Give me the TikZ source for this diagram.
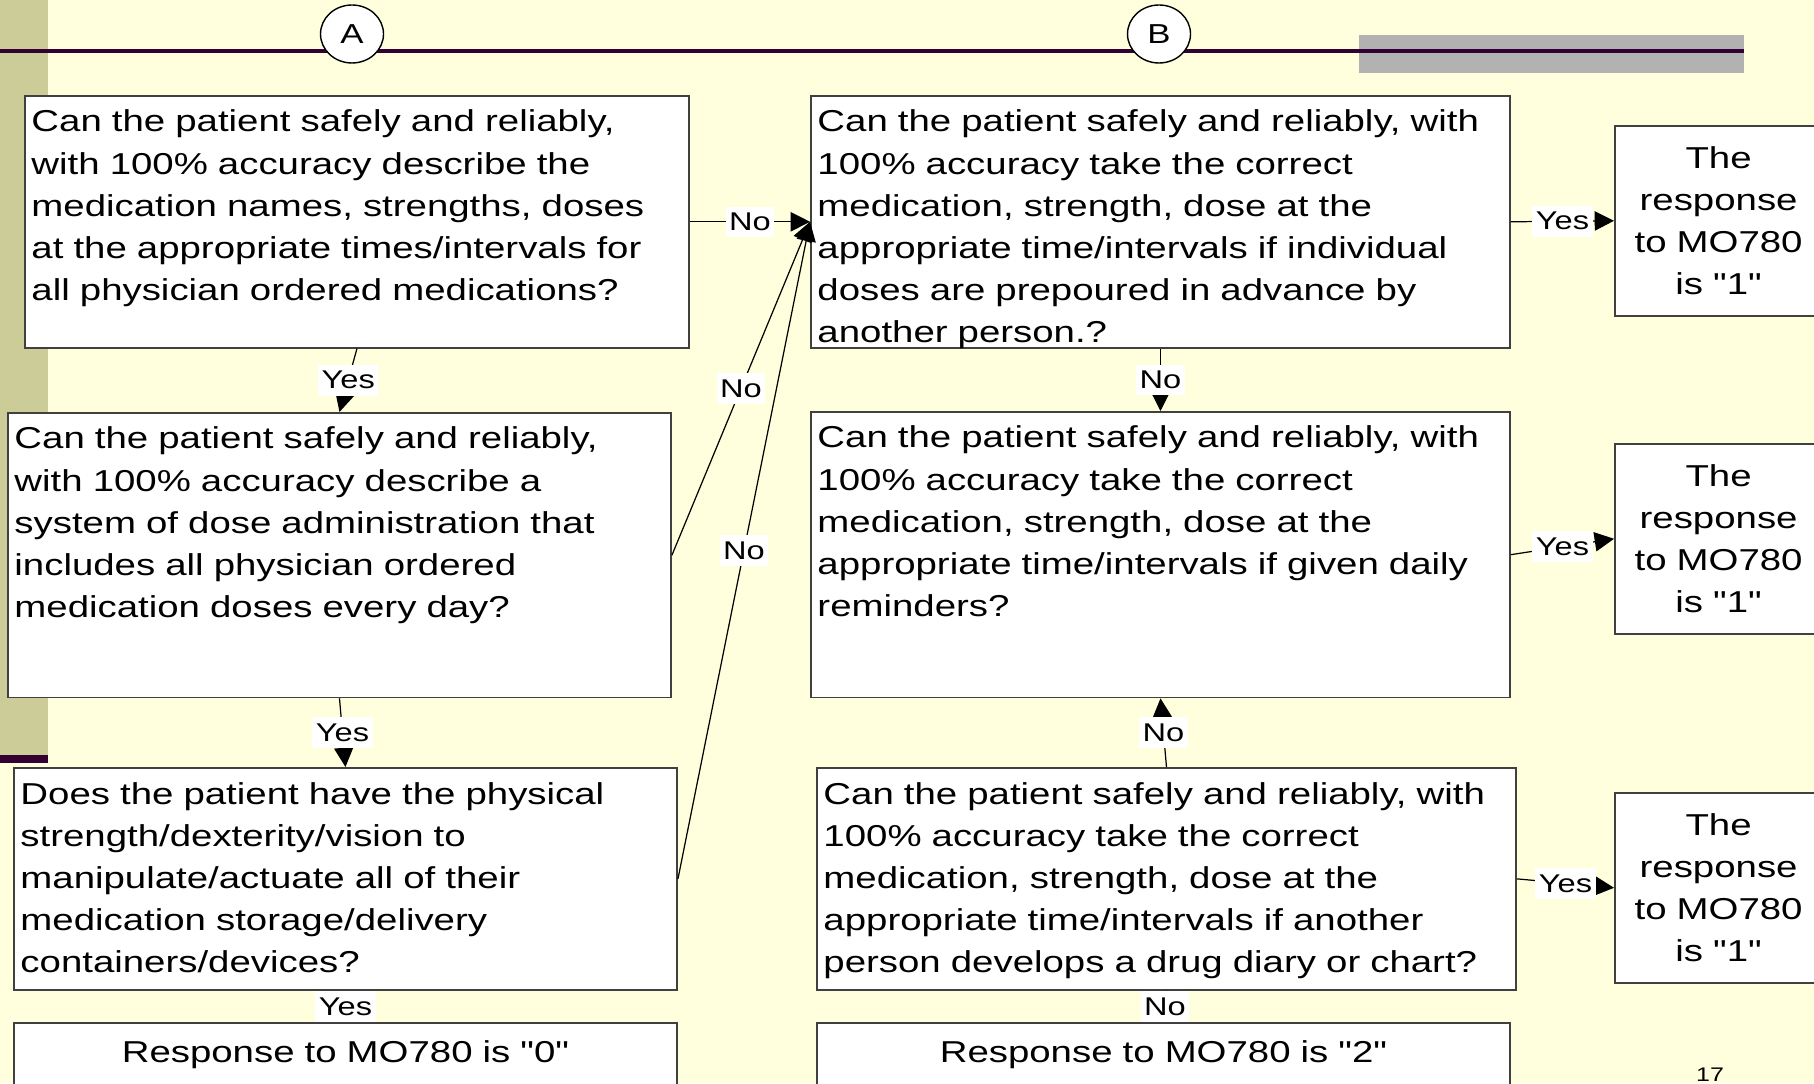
\documentclass[tikz,border=0pt]{standalone}
\usepackage{fontspec}
\setmainfont{Liberation Sans}[FakeStretch=1.27, Ligatures=TeXOff]
\usetikzlibrary{arrows.meta, shapes.geometric, positioning}
\tikzset{>={Triangle[length=5.5pt,width=5.5pt]}}

\definecolor{slidebg}{RGB}{255,255,221}
\definecolor{sidebar}{RGB}{204,204,153}
\definecolor{rulepurple}{RGB}{51,0,51}
\definecolor{bargray}{RGB}{178,178,178}
\definecolor{boxline}{RGB}{64,64,64}

\newcommand\qfont{\fontsize{8.6}{12}\selectfont}
\newcommand\lblfont{\fontsize{7.3}{8}\selectfont}
\newcommand\tagfont{\fontsize{7.8}{8}\selectfont}
\newcommand\pagefont{\fontsize{5.6}{6}\selectfont}

\tikzset{
  qbox/.style={draw=boxline, line width=0.45pt, fill=white, anchor=north west,
    align=left, inner xsep=1.9pt, inner ysep=2pt, text height=8.3pt, font=\qfont},
  ansbox/.style={draw=boxline, line width=0.45pt, fill=white, anchor=north west,
    align=center, text width=1.90cm, minimum height=1.90cm, inner xsep=2.5pt, font=\qfont},
  lbl/.style={fill=white, font=\lblfont, inner xsep=1pt, inner ysep=1.8pt},
  conn/.style={draw, ->, line width=0.35pt},
  tag/.style={ellipse, draw, fill=white, line width=0.4pt, minimum width=0.63cm,
    minimum height=0.58cm, inner sep=0pt, font=\tagfont}
}

\begin{document}
\begin{tikzpicture}
    \useasboundingbox (0,0) rectangle (18.14,-10.83);
    \clip (0,0) rectangle (18.14,-10.83);

    % slide background
    \fill[slidebg] (0,0) rectangle (18.14,-10.83);
    \fill[sidebar] (0,0) rectangle (0.48,-7.55);
    \fill[rulepurple] (0,-7.55) rectangle (0.48,-7.63);
    \fill[bargray] (13.59,-0.35) rectangle (17.44,-0.73);
    \draw[rulepurple, line width=1.15pt] (0,-0.51)--(17.44,-0.51);
    \node[tag] (tagA) at (3.52,-0.34) {A};
    \node[tag] (tagB) at (11.59,-0.34) {B};

    % column A
    \node[qbox, text width=6.51cm, text depth=59.4pt] (a1) at (0.24,-0.95)
      {Can the patient safely and reliably,\\ with 100\% accuracy describe the\\
       medication names, strengths, doses\\ at the appropriate times/intervals for\\
       all physician ordered medications?};
    \node[qbox, text width=6.50cm, text depth=68.7pt] (a2) at (0.07,-4.12)
      {Can the patient safely and reliably,\\ with 100\% accuracy describe a\\
       system of dose administration that\\ includes all physician ordered\\
       medication doses every day?};
    \node[qbox, text width=6.50cm, text depth=50.9pt] (a3) at (0.13,-7.67)
      {Does the patient have the physical\\ strength/dexterity/vision to\\
       manipulate/actuate all of their\\ medication storage/delivery\\
       containers/devices?};
    \node[qbox, align=center, text width=6.50cm, text height=9.3pt, text depth=30pt] (a4) at (0.13,-10.22)
      {Response to MO780 is "0"};

    % column B
    \node[qbox, text width=6.86cm, text depth=59.4pt] (b1) at (8.10,-0.95)
      {Can the patient safely and reliably, with\\ 100\% accuracy take the correct\\
       medication, strength, dose at the\\ appropriate time/intervals if individual\\
       doses are prepoured in advance by\\ another person.?};
    \node[qbox, text width=6.86cm, text depth=69.0pt] (b2) at (8.10,-4.11)
      {Can the patient safely and reliably, with\\ 100\% accuracy take the correct\\
       medication, strength, dose at the\\ appropriate time/intervals if given daily\\
       reminders?};
    \node[qbox, text width=6.86cm, text depth=50.9pt] (b3) at (8.16,-7.67)
      {Can the patient safely and reliably, with\\ 100\% accuracy take the correct\\
       medication, strength, dose at the\\ appropriate time/intervals if another\\
       person develops a drug diary or chart?};
    \node[qbox, align=center, text width=6.80cm, text height=9.3pt, text depth=30pt] (b4) at (8.16,-10.22)
      {Response to MO780 is "2"};

    % answers
    \node[ansbox] (c1) at (16.14,-1.25) {The\\ response\\ to MO780\\ is "1"};
    \node[ansbox] (c2) at (16.14,-4.43) {The\\ response\\ to MO780\\ is "1"};
    \node[ansbox] (c3) at (16.14,-7.92) {The\\ response\\ to MO780\\ is "1"};

    % connectors
    \draw[conn] (a1.east) -- node[lbl] {No} (b1.west);
    \draw[conn] (a2.east) -- node[lbl] {No} (b1.west);
    \draw[conn] (a3.east) -- node[lbl] {No} (b1.west);
    \draw[conn] (a1.south) -- node[lbl] {Yes} (a2.north);
    \draw[conn] (a2.south) -- node[lbl] {Yes} (a3.north);
    \draw[conn] (a3.south) -- node[lbl] {Yes} (a4.north);
    \draw[conn] (b1.east) -- node[lbl] {Yes} (c1.west);
    \draw[conn] (b1.south) -- node[lbl] {No} (b2.north);
    \draw[conn] (b2.east) -- node[lbl] {Yes} (c2.west);
    \draw[conn] (b3.north) -- node[lbl] {No} (b2.south);
    \draw[conn] (b3.east) -- node[lbl] {Yes} (c3.west);
    \draw[conn] (b3.south) -- node[lbl] {No} (b4.north);

    \node[font=\pagefont, anchor=base] (pgnum) at (17.10,-10.81) {17};
\end{tikzpicture}
\end{document}
